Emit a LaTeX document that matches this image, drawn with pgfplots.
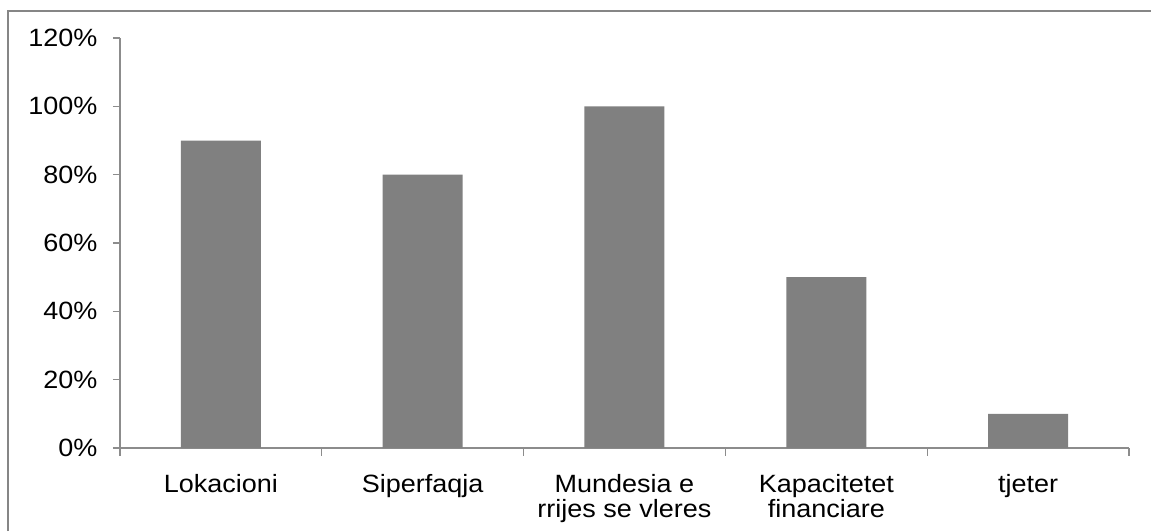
\documentclass[border=0pt]{standalone}
\usepackage{fontspec}
\setmainfont[FakeStretch=1.08]{Liberation Sans}
\usepackage{pgfplots}
\pgfplotsset{compat=1.18}

\definecolor{barfill}{HTML}{808080}
\definecolor{axisgray}{HTML}{8C8C8C}
\definecolor{framegray}{HTML}{868686}

\begin{document}
\begin{tikzpicture}
% page extent and the chart frame
\path[use as bounding box] (-60pt,-41.5pt) rectangle (515.5pt,224pt);
\draw[framegray, line width=1.2pt] (-56pt,-41.5pt) -- (-56pt,218.5pt) -- (515.5pt,218.5pt);
\begin{axis}[
  at={(0,0)}, anchor=south west,
  scale only axis,
  width=504.5pt, height=205pt,
  xmin=0.5, xmax=5.5,
  ymin=0, ymax=120,
  axis x line=bottom, axis y line=left,
  axis line style={axisgray, line width=0.6pt, -},
  every tick/.style={axisgray, line width=0.6pt},
  tick align=outside,
  xtick={1,2,3,4,5},
  major x tick style={draw=none},
  minor xtick={0.5,1.5,2.5,3.5,4.5,5.5},
  minor tick length=3.8pt,
  major tick length=3.5pt,
  xticklabels={
    \vphantom{Lj}Lokacioni,
    \vphantom{Lj}Siperfaqja,
    \vphantom{Lj}Mundesia e\\rrijes se vleres,
    \vphantom{Lj}Kapacitetet\\financiare,
    \vphantom{Lj}tjeter},
  xticklabel style={align=center, anchor=north, yshift=-6.3pt,
    font=\fontsize{12.5}{12.6}\selectfont},
  ytick={0,20,40,60,80,100,120},
  yticklabel={\pgfmathprintnumber{\tick}\%},
  yticklabel style={xshift=-4.3pt, font=\fontsize{12.5}{15}\selectfont},
  /pgf/number format/assume math mode=true,
  clip=false,
]
\addplot[ybar, bar width=40pt, fill=barfill, draw=none]
  coordinates {(1,90) (2,80) (3,100) (4,50) (5,10)};
\end{axis}
\end{tikzpicture}
\end{document}
